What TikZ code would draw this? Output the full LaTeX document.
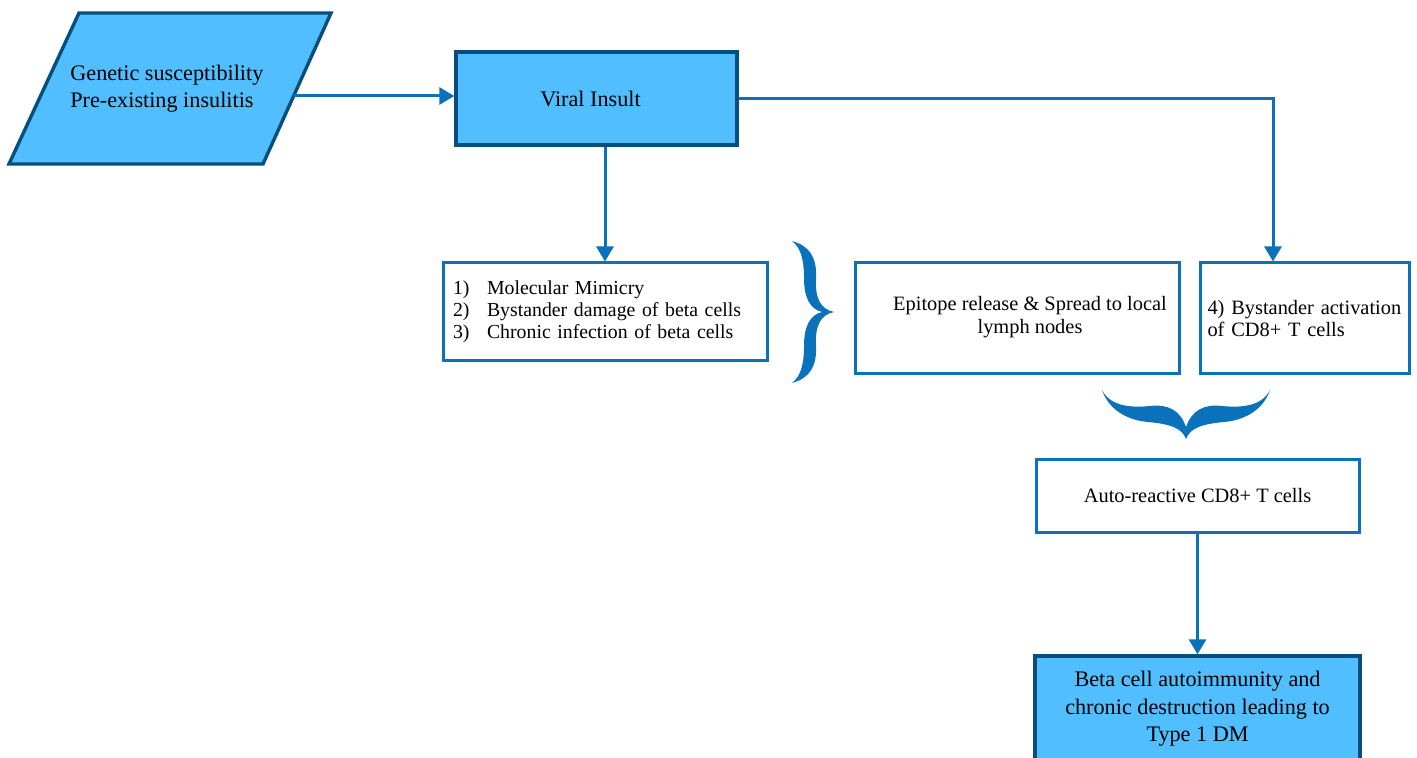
\documentclass[tikz,border=0pt]{standalone}
\usepackage{fontspec}
\setmainfont{Liberation Serif}
\usetikzlibrary{arrows.meta}
\definecolor{fillblue}{RGB}{80,190,255}
\definecolor{darkblue}{RGB}{8,78,125}
\definecolor{lineblue}{RGB}{10,114,186}
\begin{document}
\begin{tikzpicture}[x=0.5pt,y=-0.5pt,
  bigfont/.style={font=\fontsize{11.1}{13.75}\selectfont},
  smallfont/.style={font=\fontsize{10.2}{11}\selectfont},
  filledbox/.style={draw=darkblue, line width=1.7pt, fill=fillblue, inner sep=0pt, bigfont},
  plainbox/.style={draw=lineblue, line width=1.5pt, fill=white, inner sep=0pt, smallfont},
  conn/.style={draw=lineblue, line width=1.5pt, -{Triangle[length=7.5pt,width=8.5pt]}},
  bracefill/.style={fill=lineblue, draw=none}]
\useasboundingbox (0,0) rectangle (1417,758);

% parallelogram input
\draw[darkblue, line width=1.7pt, fill=fillblue, line join=miter]
  (79,13) -- (331,13) -- (263,164) -- (9,164) -- cycle;
\node[anchor=west, align=left, inner sep=0pt, font=\fontsize{11.1}{13.5}\selectfont] (gen) at (70,88.5)
  {Genetic susceptibility\\Pre-existing insulitis};
\coordinate (genout) at (294,96);

% boxes
\node[filledbox, minimum width=140.5pt, minimum height=46.5pt,
  label={[bigfont, xshift=-3pt]center:Viral Insult}] (viral) at (596.5,98.5) {};

\node[plainbox, minimum width=162pt, minimum height=49pt, text width=152pt, align=left,
  font=\fontsize{9.9}{11}\selectfont] (list) at (605,312)
  {\makebox[17pt][l]{1)}Molecular Mimicry\\
   \makebox[17pt][l]{2)}Bystander damage of beta cells\\
   \makebox[17pt][l]{3)}Chronic infection of beta cells};

\node[plainbox, minimum width=162pt, minimum height=55.5pt,
  label={[align=center, font=\fontsize{10.2}{11.5}\selectfont, xshift=6.5pt, yshift=0.5pt]center:Epitope release \& Spread to local\\lymph nodes}]
  (epi) at (1017,318.5) {};

\node[plainbox, minimum width=104.5pt, minimum height=55.5pt, text width=97pt, align=left] (bys) at (1304.5,318.5)
  {4) Bystander activation\\of CD8+ T cells};

\node[plainbox, minimum width=161.5pt, minimum height=36pt] (auto) at (1197.5,496)
  {Auto-reactive CD8+ T cells};

\node[filledbox, minimum width=162.5pt, minimum height=53pt, align=center] (final) at (1197.5,709)
  {Beta cell autoimmunity and\\chronic destruction leading to\\Type 1 DM};

% connectors
\draw[conn] (genout) -- (genout -| viral.west);
\draw[conn] (viral.south -| list.north) -- (list.north);
\coordinate (turn) at (1273,98.5);
\draw[conn] (viral.east) -- (turn) -- (turn |- bys.north);
\draw[conn] (auto.south) -- (final.north);

% vertical brace
\fill[bracefill]
  (792,241) .. controls (810,246) and (817,258) .. (816,278)
  .. controls (815,298) and (820,309) .. (834,312)
  .. controls (820,315) and (815,326) .. (816,346)
  .. controls (817,366) and (810,378) .. (792,383)
  .. controls (801,376) and (804,364) .. (804,346)
  .. controls (804,326) and (810,315) .. (822,312)
  .. controls (810,309) and (804,298) .. (804,278)
  .. controls (804,260) and (801,248) .. (792,241) -- cycle;

% horizontal brace
\fill[bracefill]
  (1102,390) .. controls (1108,408) and (1125,420) .. (1148,422)
  .. controls (1170,424) and (1182,428) .. (1186,439)
  .. controls (1190,428) and (1202,424) .. (1224,422)
  .. controls (1247,420) and (1264,408) .. (1270,390)
  .. controls (1262,406) and (1242,408) .. (1222,406)
  .. controls (1204,404) and (1192,410) .. (1186,427)
  .. controls (1180,410) and (1168,404) .. (1150,406)
  .. controls (1130,408) and (1110,406) .. (1102,390) -- cycle;
\end{tikzpicture}
\end{document}
